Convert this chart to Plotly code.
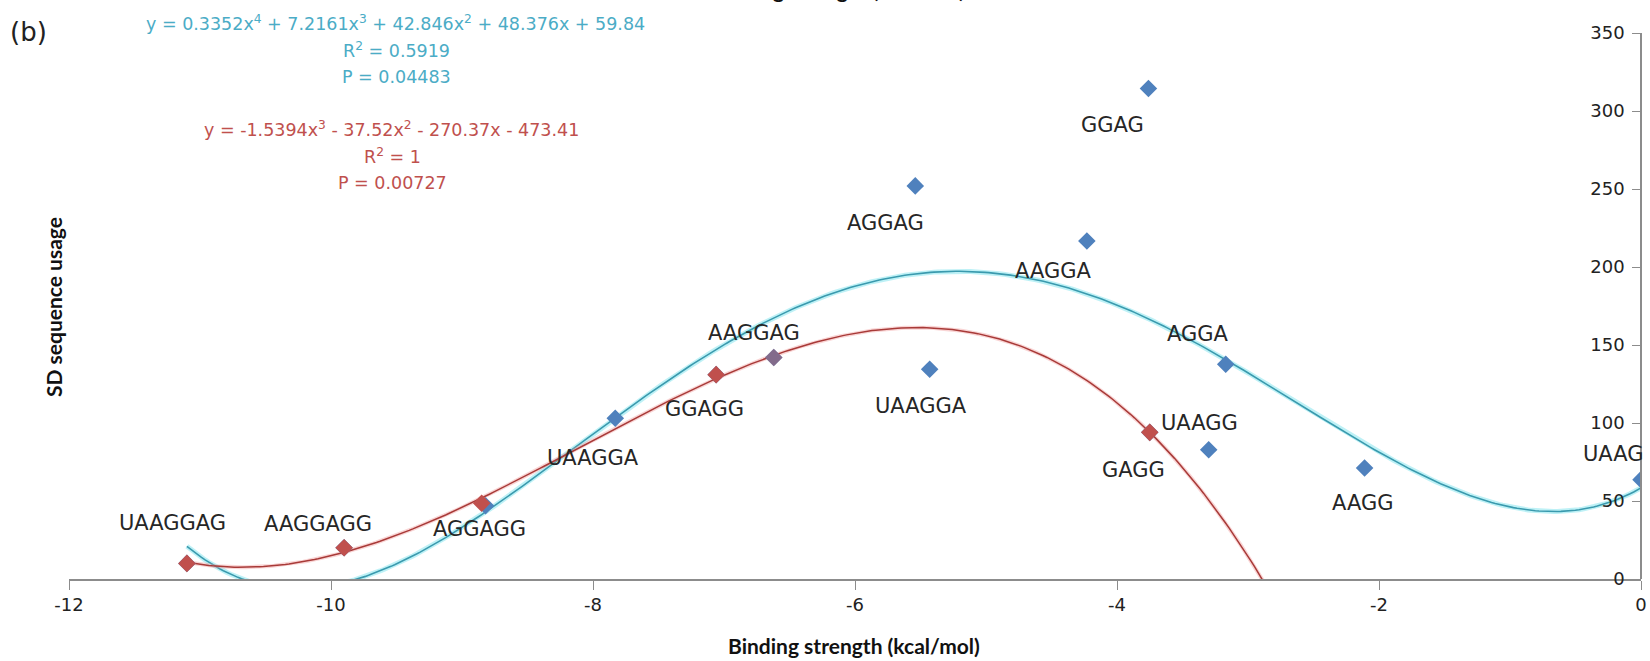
import numpy as np
import plotly.graph_objects as go

# ---------------- data ----------------
labels = ["UAAGGAG", "AAGGAGG", "AGGAGG", "UAAGGA", "GGAGG", "AAGGAG", "AGGAG",
          "UAAGGA", "AAGGA", "GGAG", "GAGG", "UAAGG", "AGGA", "AAGG", "UAAG"]
blue_x = [-11.10, -9.90, -8.82, -7.83, -7.06, -6.62, -5.54, -5.43, -4.23, -3.76,
          -3.75, -3.30, -3.17, -2.11, 0.0]
blue_y = [10, 20, 47, 103, 131, 142, 252, 134.5, 216.7, 314.4, 94, 82.8, 137.7, 71.2, 63.7]
red_x = [-11.10, -9.90, -8.85, -7.06, -6.62, -3.75]
red_y = [10, 20, 48.5, 131, 142, 94]
x_ticks = [-12, -10, -8, -6, -4, -2, 0]
x_ticktext = ["-12", "-10", "-8", "-6", "-4", "-2", "0"]
y_ticks = [0, 50, 100, 150, 200, 250, 300, 350]

blue_eq = ["y = 0.3352x<sup>4</sup> + 7.2161x<sup>3</sup> + 42.846x<sup>2</sup> + 48.376x + 59.84",
           "R<sup>2</sup> = 0.5919", "P = 0.04483"]
red_eq = ["y = -1.5394x<sup>3</sup> - 37.52x<sup>2</sup> - 270.37x - 473.41",
          "R<sup>2</sup> = 1", "P = 0.00727"]
x_title = "Binding strength (kcal/mol)"
y_title = "SD sequence usage"

# ---------------- styles ----------------
W, H = 1650, 661
ML, MR, MT, MB = 69, 9, 33, 82
PW, PH = W - ML - MR, H - MT - MB
BLUE = "#4F81BD"
RED = "#C0504D"
CYAN_TXT = "#4BACC6"
RED_TXT = "#C0504D"
WIDE = "DejaVu Sans"
NARROW = "Lato"
AXCOL = "#8c8c8c"

# label offsets in screen px (dx right, dy down)
label_off = [(-14, -40), (-26, -24), (-6, 23), (-22, 40), (-12, 34), (-20, -24), (-30, 37),
             (-9, 37), (-34, 30), (-36, 36), (-16, 38), (-9, -27), (-28, -30), (-2, 35), (-28, -26)]
red_opacity = [1, 1, 1, 1, 0.45, 1]


def px2paper(ax, ay):
    return (ax - ML) / PW, (H - MB - ay) / PH


def paper_text(ax, ay, text, font, **kw):
    px, py = px2paper(ax, ay)
    fig.add_annotation(x=px, y=py, xref="paper", yref="paper", text=text, showarrow=False,
                       xanchor="center", yanchor="middle", font=font, **kw)


fig = go.Figure()

# trendlines (Excel-like polynomial fits of the series)
bx, by = np.array(blue_x), np.array(blue_y)
rx, ry = np.array(red_x), np.array(red_y)
pb = np.polyfit(bx, by, 4)
pr = np.polyfit(rx, ry, 3)
xb = np.linspace(bx.min(), bx.max(), 400)
xr = np.linspace(rx.min(), 0, 400)

fig.add_trace(go.Scatter(x=xb, y=np.polyval(pb, xb), mode="lines",
                         line=dict(color="rgba(110,225,235,0.45)", width=5), hoverinfo="skip"))
fig.add_trace(go.Scatter(x=xb, y=np.polyval(pb, xb), mode="lines",
                         line=dict(color="#3A9AAE", width=1.6), hoverinfo="skip"))
fig.add_trace(go.Scatter(x=xr, y=np.polyval(pr, xr), mode="lines",
                         line=dict(color="rgba(240,150,150,0.4)", width=4), hoverinfo="skip"))
fig.add_trace(go.Scatter(x=xr, y=np.polyval(pr, xr), mode="lines",
                         line=dict(color="#A83A38", width=1.5), hoverinfo="skip"))

fig.add_trace(go.Scatter(x=blue_x, y=blue_y, mode="markers",
                         marker=dict(symbol="diamond", size=13.5, color=BLUE, line=dict(width=0))))
fig.add_trace(go.Scatter(x=red_x, y=red_y, mode="markers",
                         marker=dict(symbol="diamond", size=13.5, color=RED, opacity=red_opacity,
                                     line=dict(width=0))))

# point labels
for lab, x, y, (dx, dy) in zip(labels, blue_x, blue_y, label_off):
    fig.add_annotation(x=x, y=y, xref="x", yref="y", text=lab, showarrow=False,
                       xanchor="center", yanchor="middle",
                       xshift=dx, yshift=-dy, font=dict(family=WIDE, size=21, color="#262626"))

# equations
eq_pos_b = [(395, 22.7), (396, 50), (396, 77.3)]
eq_pos_r = [(391, 129.3), (392, 156), (392, 183.3)]
for t, (ax, ay) in zip(blue_eq, eq_pos_b):
    paper_text(ax, ay, t, dict(family=WIDE, size=17.5, color=CYAN_TXT))
for t, (ax, ay) in zip(red_eq, eq_pos_r):
    paper_text(ax, ay, t, dict(family=WIDE, size=17.5, color=RED_TXT))

# panel letter
paper_text(28, 32, "(b)", dict(family=WIDE, size=26, color="#222"))

# axis titles (one copy of the x title is cut off at the very top, as in the source)
paper_text(854, 645, "<b>" + x_title + "</b>", dict(family=NARROW, size=21, color="#111"))
paper_text(839, -11, "<b>" + x_title + "</b>", dict(family=NARROW, size=21, color="#111"))
paper_text(53, 307, "<b>" + y_title + "</b>", dict(family=NARROW, size=21, color="#111"), textangle=-90)

fig.update_layout(
    width=W, height=H, autosize=False,
    margin=dict(l=ML, r=MR, t=MT, b=MB, pad=0),
    paper_bgcolor="white", plot_bgcolor="white",
    showlegend=False,
    xaxis=dict(range=[-12, 0], domain=[0, 1], tickvals=x_ticks, ticktext=x_ticktext, showgrid=False,
               zeroline=False, showline=True, linecolor=AXCOL, linewidth=1.5,
               ticks="outside", ticklen=9, tickcolor=AXCOL, tickwidth=1,
               ticklabeloverflow="allow", automargin=False,
               tickfont=dict(family=WIDE, size=18, color="#222")),
    yaxis=dict(range=[0, 350], tickvals=y_ticks, anchor="free", position=1, side="left",
               showgrid=False, zeroline=False, showline=True, linecolor=AXCOL, linewidth=1.5,
               ticks="outside", ticklen=8, tickcolor=AXCOL, tickwidth=1,
               ticklabeloverflow="allow", automargin=False, ticklabelstandoff=4,
               tickfont=dict(family=WIDE, size=18, color="#222")),
)

fig.write_html("out.html", config={"displayModeBar": False},
               post_script="document.body.style.margin='0';")
